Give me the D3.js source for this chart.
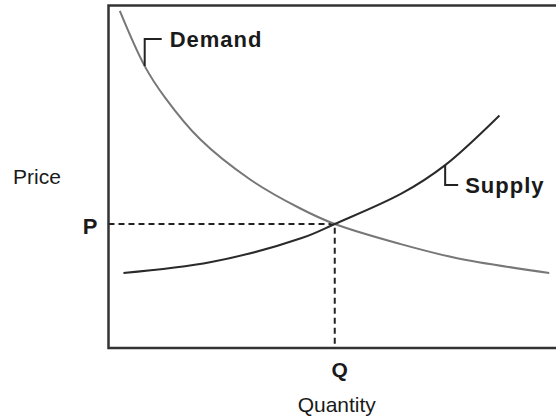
<!DOCTYPE html>
<html>
<head>
<meta charset="utf-8">
<script src="https://cdn.jsdelivr.net/npm/d3@7"></script>
<style>
  body { margin: 0; background: #fff; }
  svg { display: block; font-family: "Liberation Sans", Arial, sans-serif; }
</style>
</head>
<body>
<div id="chart-area"></div>
<script>
const W = 556, H = 417;

// demand and supply curves (quantity, price)
const demandQ = [0.25, 0.80, 1.25, 2.02, 3.13, 4.23, 5.0, 6.44, 7.68, 9.74];
const demandP = [9.84, 8.23, 7.31, 6.10, 4.92, 4.08, 3.62, 3.04, 2.63, 2.19];
const supplyQ = [0.33, 2.27, 4.27, 5.0, 6.49, 7.44, 8.64];
const supplyP = [2.19, 2.51, 3.21, 3.62, 4.52, 5.34, 6.79];
const equilibrium = { q: 5.0, p: 3.62 };
const labels = { demand: "Demand", supply: "Supply", price: "Price", quantity: "Quantity", p: "P", q: "Q" };

const demand = demandQ.map((q, i) => ({ q, p: demandP[i] }));
const supply = supplyQ.map((q, i) => ({ q, p: supplyP[i] }));

const svg = d3.select("#chart-area")
  .append("svg")
    .attr("width", W)
    .attr("height", H);

const x = d3.scaleLinear().domain([0, 10]).range([108.5, 561]);
const y = d3.scaleLinear().domain([0, 10]).range([348, 5.5]);

const line = d3.line()
  .x(d => x(d.q))
  .y(d => y(d.p))
  .curve(d3.curveCatmullRom.alpha(0.5));

// frame (open on the right, runs off the picture)
svg.append("path")
  .attr("d", `M${W + 5},${y(10)} H${x(0)} V${y(0)} H${W + 5}`)
  .attr("fill", "none")
  .attr("stroke", "#333")
  .attr("stroke-width", 2.5);

// dashed guides to the equilibrium
svg.append("path")
  .attr("d", `M${x(0)},${y(equilibrium.p)} H${x(equilibrium.q)} V${y(0)}`)
  .attr("fill", "none")
  .attr("stroke", "#222")
  .attr("stroke-width", 2)
  .attr("stroke-dasharray", "6,4");

svg.append("path")
  .datum(demand)
  .attr("d", line)
  .attr("fill", "none")
  .attr("stroke", "#777")
  .attr("stroke-width", 2);

svg.append("path")
  .datum(supply)
  .attr("d", line)
  .attr("fill", "none")
  .attr("stroke", "#2a2a2a")
  .attr("stroke-width", 2);

// label brackets
const dA = demand[1], sA = supply[5];
svg.append("path")
  .attr("d", `M${x(dA.q)},${y(dA.p)} V${y(dA.p) - 27} H${x(dA.q) + 17}`)
  .attr("fill", "none").attr("stroke", "#222").attr("stroke-width", 2);
svg.append("path")
  .attr("d", `M${x(sA.q)},${y(sA.p)} V${y(sA.p) + 20} H${x(sA.q) + 13}`)
  .attr("fill", "none").attr("stroke", "#222").attr("stroke-width", 2);

const text = (tx, ty, str, size, weight, anchor, ls) => svg.append("text")
  .attr("x", tx).attr("y", ty)
  .attr("text-anchor", anchor)
  .style("font-size", size + "px")
  .style("font-weight", weight)
  .style("letter-spacing", (ls || 0) + "px")
  .attr("fill", "#1a1a1a")
  .text(str);

text(x(dA.q) + 25, y(dA.p) - 19, labels.demand, 22, "bold", "start", 1);
text(x(sA.q) + 20, y(sA.p) + 28, labels.supply, 22, "bold", "start", 1);
text(13, 184, labels.price, 21, "normal", "start");
text(x(0) - 11, y(equilibrium.p) + 10, labels.p, 22, "bold", "end");
text(x(equilibrium.q) + 5, 377, labels.q, 21, "bold", "middle");
text(x(equilibrium.q) + 2, 412, labels.quantity, 21, "normal", "middle");
</script>
</body>
</html>
